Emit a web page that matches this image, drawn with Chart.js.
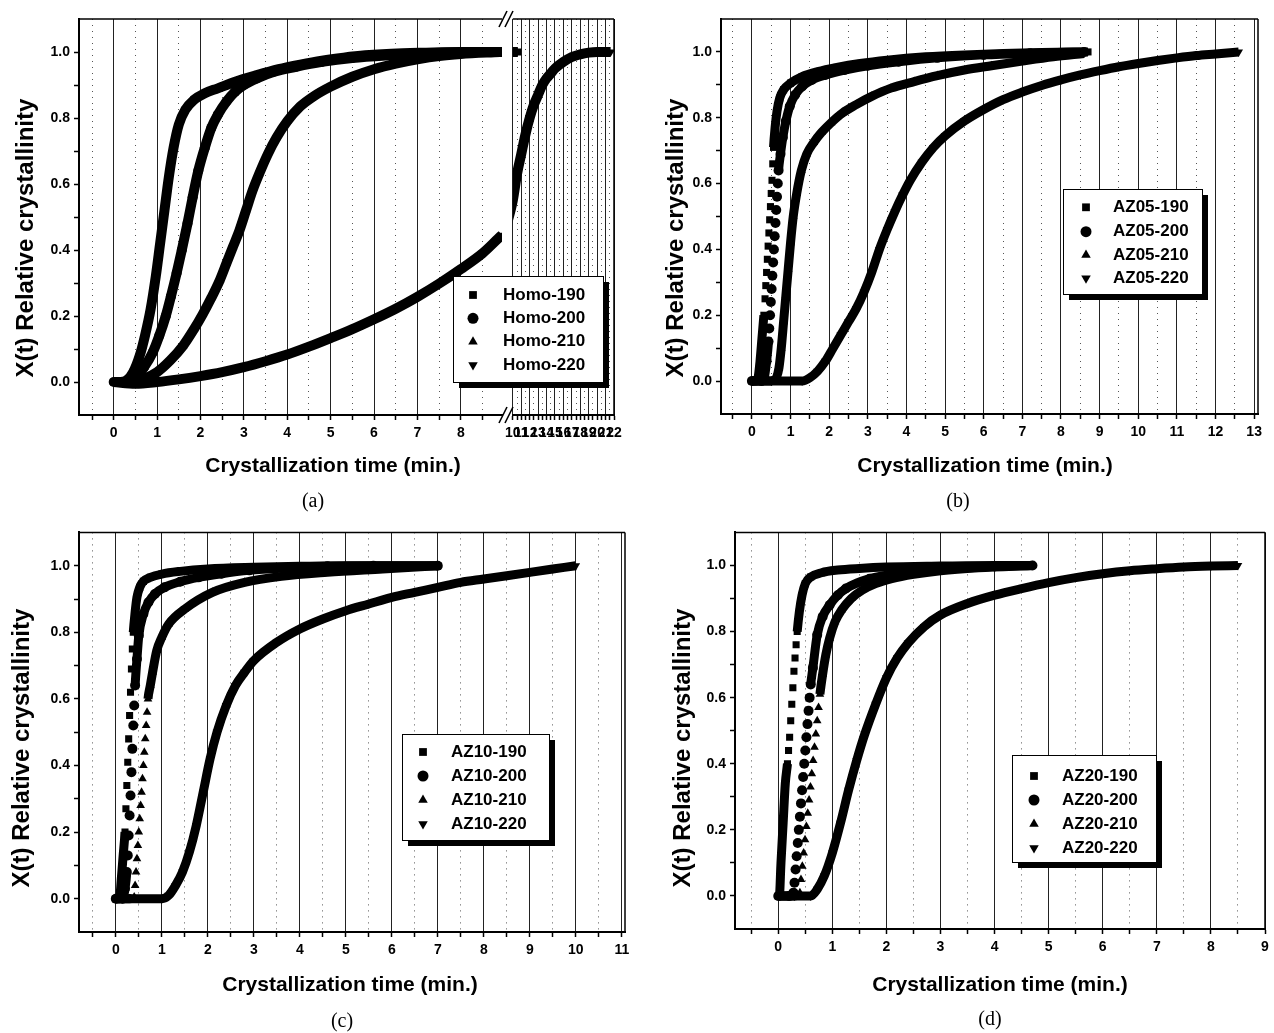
<!DOCTYPE html>
<html><head><meta charset="utf-8">
<script src="https://cdn.jsdelivr.net/npm/chart.js@4.4.1/dist/chart.umd.min.js"></script>
<style>
html,body{margin:0;padding:0;background:#fff;}
#wrap{position:relative;width:1274px;height:1033px;overflow:hidden;background:#fff;}
canvas{position:absolute;}
.cap{position:absolute;font-family:'Liberation Serif','Times New Roman',serif;font-size:20px;color:#000;transform:translate(-50%,-50%);white-space:nowrap;}
</style></head><body>
<div id="wrap">
<canvas id="ca2" width="140" height="520" style="left:500px;top:0px"></canvas>
<canvas id="ca1" width="640" height="520" style="left:0px;top:0px"></canvas>
<canvas id="cb" width="634" height="520" style="left:640px;top:0px"></canvas>
<canvas id="cc" width="640" height="513" style="left:0px;top:520px"></canvas>
<canvas id="cd" width="634" height="513" style="left:640px;top:520px"></canvas>
<div class="cap" style="left:313px;top:500px">(a)</div>
<div class="cap" style="left:958px;top:500px">(b)</div>
<div class="cap" style="left:342px;top:1020px">(c)</div>
<div class="cap" style="left:990px;top:1018px">(d)</div>
</div>
<script>
// ---------------- DATA ----------------
const xTitle = 'Crystallization time (min.)';
const yTitle = 'X(t) Relative crystallinity';
const labelsA = ['Homo-190','Homo-200','Homo-210','Homo-220'];
const labelsB = ['AZ05-190','AZ05-200','AZ05-210','AZ05-220'];
const labelsC = ['AZ10-190','AZ10-200','AZ10-210','AZ10-220'];
const labelsD = ['AZ20-190','AZ20-200','AZ20-210','AZ20-220'];

// panel (a): [time (min), X(t)]
const homo190 = [[0,0],[0.15,0],[0.3,0.005],[0.45,0.03],[0.6,0.08],[0.72,0.14],[0.85,0.22],[0.97,0.32],[1.07,0.42],[1.17,0.52],[1.27,0.62],[1.38,0.71],[1.5,0.78],[1.65,0.825],[1.85,0.855],[2.1,0.875],[2.4,0.89],[2.8,0.91],[3.3,0.93],[3.8,0.948],[4.3,0.962],[4.8,0.974],[5.3,0.983],[5.8,0.99],[6.4,0.995],[7.2,0.998],[8.0,1.0],[8.9,1.0],[10.2,1.0],[10.6,1.0]];
const homo200 = [[0,0],[0.3,0],[0.5,0.015],[0.7,0.045],[0.9,0.09],[1.05,0.14],[1.2,0.2],[1.32,0.26],[1.45,0.33],[1.57,0.4],[1.7,0.48],[1.82,0.56],[1.95,0.64],[2.1,0.71],[2.25,0.77],[2.4,0.81],[2.6,0.85],[2.8,0.88],[3.0,0.9],[3.3,0.92],[3.7,0.94],[4.2,0.955],[4.8,0.97],[5.5,0.982],[6.3,0.99],[7.2,0.996],[8.0,0.999],[8.9,1.0]];
const homo210 = [[0,0],[0.4,0],[0.7,0.01],[1.0,0.03],[1.3,0.065],[1.6,0.11],[1.85,0.16],[2.05,0.205],[2.25,0.255],[2.45,0.31],[2.6,0.36],[2.75,0.41],[2.9,0.46],[3.05,0.52],[3.2,0.58],[3.35,0.63],[3.55,0.69],[3.75,0.74],[4.0,0.79],[4.3,0.835],[4.6,0.865],[5.0,0.895],[5.5,0.925],[6.0,0.948],[6.5,0.965],[7.0,0.978],[7.5,0.988],[8.0,0.994],[8.9,1.0]];
const homo220 = [[0,0],[0.5,-0.005],[1.0,0.0],[1.5,0.008],[2.0,0.018],[2.5,0.03],[3.0,0.045],[3.5,0.063],[4.0,0.083],[4.5,0.107],[5.0,0.133],[5.5,0.16],[6.0,0.19],[6.5,0.222],[7.0,0.258],[7.5,0.298],[8.0,0.342],[8.5,0.39],[8.95,0.445],[10.0,0.55],[10.5,0.63],[11.0,0.69],[11.5,0.75],[12.0,0.8],[12.5,0.84],[13.0,0.87],[13.5,0.9],[14.0,0.92],[14.5,0.935],[15.0,0.95],[16.0,0.97],[17.0,0.985],[18.0,0.993],[19.0,0.998],[20.0,1.0],[21.0,1.0],[21.6,1.0]];

// panel (b)
const az05_190 = [[0,0],[0.1,0],[0.16,0.01],[0.21,0.06],[0.26,0.13],[0.31,0.2],[0.34,0.25],[0.36,0.29],[0.38,0.33],[0.4,0.37],[0.42,0.41],[0.44,0.45],[0.46,0.49],[0.48,0.53],[0.5,0.57],[0.52,0.61],[0.54,0.66],[0.56,0.71],[0.6,0.77],[0.65,0.82],[0.72,0.86],[0.82,0.885],[1.0,0.905],[1.3,0.925],[1.7,0.94],[2.2,0.953],[2.8,0.965],[3.5,0.975],[4.5,0.985],[5.5,0.991],[6.5,0.995],[7.5,0.998],[8.7,1.0]];
const az05_200 = [[0,0],[0.25,0],[0.32,0.01],[0.38,0.06],[0.43,0.12],[0.45,0.16],[0.47,0.2],[0.49,0.24],[0.51,0.28],[0.53,0.32],[0.55,0.36],[0.57,0.4],[0.59,0.44],[0.61,0.48],[0.63,0.52],[0.65,0.56],[0.67,0.6],[0.69,0.64],[0.74,0.69],[0.8,0.74],[0.88,0.79],[0.98,0.835],[1.12,0.87],[1.3,0.895],[1.55,0.915],[1.9,0.93],[2.4,0.945],[3.0,0.958],[3.8,0.97],[4.8,0.982],[6.0,0.991],[7.2,0.996],[8.6,1.0]];
const az05_210 = [[0,0],[0.4,0],[0.6,0.005],[0.7,0.04],[0.76,0.1],[0.82,0.18],[0.88,0.26],[0.94,0.34],[1.0,0.42],[1.07,0.5],[1.16,0.57],[1.28,0.64],[1.42,0.69],[1.6,0.725],[1.8,0.755],[2.05,0.785],[2.35,0.815],[2.7,0.84],[3.1,0.865],[3.6,0.89],[4.2,0.91],[4.8,0.928],[5.5,0.945],[6.2,0.958],[7.0,0.972],[7.8,0.985],[8.6,0.995]];
const az05_220 = [[0,0],[0.5,0],[1.0,0],[1.3,0.0],[1.5,0.01],[1.7,0.03],[1.9,0.06],[2.1,0.1],[2.3,0.14],[2.5,0.18],[2.7,0.22],[2.9,0.27],[3.1,0.33],[3.3,0.4],[3.5,0.46],[3.7,0.515],[3.9,0.565],[4.1,0.61],[4.4,0.665],[4.7,0.71],[5.0,0.745],[5.5,0.79],[6.0,0.825],[6.5,0.855],[7.0,0.878],[7.5,0.898],[8.0,0.915],[8.5,0.93],[9.0,0.943],[9.5,0.955],[10.0,0.965],[10.5,0.974],[11.0,0.982],[11.5,0.989],[12.0,0.994],[12.6,1.0]];

// panel (c)
const az10_190 = [[0,0],[0.08,0],[0.12,0.06],[0.16,0.13],[0.2,0.2],[0.22,0.27],[0.24,0.34],[0.26,0.41],[0.28,0.48],[0.3,0.55],[0.32,0.62],[0.34,0.69],[0.36,0.75],[0.38,0.8],[0.42,0.86],[0.46,0.905],[0.52,0.935],[0.6,0.953],[0.75,0.965],[1.0,0.975],[1.4,0.983],[2.0,0.99],[3.0,0.995],[4.0,0.998],[5.0,1.0],[6.0,1.0],[7.0,1.0]];
const az10_200 = [[0,0],[0.15,0],[0.2,0.03],[0.24,0.08],[0.26,0.13],[0.28,0.19],[0.3,0.25],[0.32,0.31],[0.34,0.38],[0.36,0.45],[0.38,0.52],[0.4,0.58],[0.42,0.64],[0.46,0.72],[0.5,0.79],[0.6,0.855],[0.71,0.89],[0.85,0.915],[1.06,0.935],[1.4,0.952],[1.8,0.965],[2.3,0.976],[2.9,0.986],[3.7,0.993],[4.6,0.998],[5.6,1.0],[7.0,1.0]];
const az10_210 = [[0,0],[0.3,0],[0.4,0.005],[0.42,0.04],[0.44,0.08],[0.46,0.12],[0.48,0.16],[0.5,0.2],[0.52,0.24],[0.54,0.28],[0.56,0.32],[0.58,0.36],[0.6,0.4],[0.62,0.44],[0.64,0.48],[0.66,0.52],[0.68,0.56],[0.7,0.6],[0.75,0.64],[0.8,0.68],[0.89,0.745],[1.0,0.785],[1.15,0.825],[1.5,0.87],[2.1,0.92],[2.8,0.95],[3.6,0.968],[4.6,0.98],[5.8,0.99],[7.0,1.0]];
const az10_220 = [[0,0],[0.5,0],[1.0,0],[1.15,0.01],[1.3,0.04],[1.45,0.08],[1.6,0.14],[1.75,0.22],[1.9,0.32],[2.05,0.42],[2.2,0.5],[2.4,0.58],[2.6,0.64],[2.8,0.68],[3.0,0.715],[3.5,0.77],[4.0,0.81],[4.5,0.84],[5.0,0.865],[5.5,0.885],[6.0,0.905],[6.5,0.92],[7.0,0.935],[7.5,0.95],[8.0,0.96],[8.5,0.97],[9.0,0.98],[9.5,0.99],[10.0,1.0]];

// panel (d)
const az20_190 = [[0,0],[0.02,0],[0.05,0.1],[0.09,0.22],[0.13,0.34],[0.17,0.4],[0.19,0.44],[0.21,0.48],[0.23,0.53],[0.25,0.58],[0.27,0.63],[0.29,0.68],[0.31,0.72],[0.33,0.76],[0.35,0.8],[0.39,0.86],[0.44,0.91],[0.5,0.945],[0.6,0.965],[0.8,0.978],[1.1,0.986],[1.5,0.991],[2.0,0.995],[3.0,0.998],[4.0,1.0],[4.7,1.0]];
const az20_200 = [[0,0],[0.2,0],[0.28,0.01],[0.3,0.04],[0.32,0.08],[0.34,0.12],[0.36,0.16],[0.38,0.2],[0.4,0.24],[0.42,0.28],[0.44,0.32],[0.46,0.36],[0.48,0.4],[0.5,0.44],[0.52,0.48],[0.54,0.52],[0.56,0.56],[0.58,0.6],[0.6,0.64],[0.64,0.69],[0.72,0.79],[0.82,0.845],[0.95,0.88],[1.1,0.91],[1.25,0.93],[1.69,0.96],[2.4,0.98],[3.2,0.99],[4.0,0.997],[4.7,1.0]];
const az20_210 = [[0,0],[0.3,0],[0.4,0.01],[0.42,0.05],[0.445,0.09],[0.47,0.13],[0.495,0.17],[0.52,0.21],[0.545,0.25],[0.57,0.29],[0.595,0.33],[0.62,0.37],[0.645,0.41],[0.67,0.45],[0.695,0.49],[0.72,0.53],[0.745,0.57],[0.77,0.61],[0.82,0.67],[0.88,0.73],[0.95,0.78],[1.05,0.83],[1.17,0.865],[1.35,0.9],[1.55,0.925],[1.8,0.945],[2.1,0.96],[2.5,0.973],[3.0,0.984],[3.7,0.993],[4.7,1.0]];
const az20_220 = [[0,0],[0.3,0],[0.6,0],[0.72,0.02],[0.85,0.06],[1.0,0.13],[1.15,0.22],[1.3,0.32],[1.45,0.41],[1.6,0.49],[1.8,0.58],[2.0,0.66],[2.2,0.72],[2.4,0.765],[2.7,0.815],[3.0,0.85],[3.5,0.885],[4.0,0.91],[4.5,0.93],[5.0,0.948],[5.5,0.963],[6.0,0.975],[6.5,0.984],[7.0,0.99],[7.5,0.995],[8.0,0.998],[8.5,1.0]];

// tick values
const halves = (a, b) => { const r = []; for (let k = a; k <= b; k++) r.push(k / 2); return r; };
const yTicks = [0,1,2,3,4,5,6,7,8,9,10].map(k => k / 10);
const xTicksA1 = halves(-1, 17);
const xTicksA2 = halves(20, 44);
const xTicksB = halves(-1, 26);
const xTicksC = halves(-1, 22);
const xTicksD = halves(-1, 18);

// ---------------- STYLE ----------------
const FONT = "'Liberation Sans', Arial, Helvetica, sans-serif";
const markers = [
  {style: 'rect', rot: 0},
  {style: 'circle', rot: 0},
  {style: 'triangle', rot: 0},
  {style: 'triangle', rot: 180}
];

function makeDatasets(labels, series, lineW, radius) {
  return series.map((data, i) => ({
    label: labels[i],
    data: data,
    showLine: true,
    borderColor: '#000',
    backgroundColor: '#000',
    borderWidth: lineW,
    borderJoinStyle: 'round',
    cubicInterpolationMode: 'monotone',
    pointRadius: radius,
    pointHoverRadius: radius,
    pointStyle: markers[i].style,
    pointRotation: markers[i].rot,
    pointBackgroundColor: '#000',
    pointBorderColor: '#000',
    pointBorderWidth: 0,
    clip: 0,
    segment: {
      borderColor: ctx => Math.abs(ctx.p1.x - ctx.p0.x) < 1.5 ? 'rgba(0,0,0,0)' : '#000'
    }
  }));
}

function drawMarker(ctx, style, rot, r, x, y) {
  if (Chart.helpers && Chart.helpers.drawPoint) {
    Chart.helpers.drawPoint(ctx, {pointStyle: style, rotation: rot, radius: r, borderWidth: 0}, x, y);
    return;
  }
  ctx.beginPath();
  if (style === 'circle') ctx.arc(x, y, r, 0, Math.PI * 2);
  else if (style === 'rect') { const s = r * Math.SQRT1_2; ctx.rect(x - s, y - s, 2 * s, 2 * s); }
  else { const d = rot ? -1 : 1; ctx.moveTo(x, y - d * r); ctx.lineTo(x + r * 0.866, y + d * r * 0.5); ctx.lineTo(x - r * 0.866, y + d * r * 0.5); ctx.closePath(); }
  ctx.fill();
}

function decorPlugin(d) {
  return {
    id: 'decor',
    afterDraw(chart) {
      const ctx = chart.ctx, a = chart.chartArea, ox = d.ox, oy = d.oy;
      ctx.save();
      ctx.strokeStyle = '#000';
      ctx.lineWidth = 1.5;
      ctx.beginPath();
      if (d.frameTop) { ctx.moveTo(a.left, a.top); ctx.lineTo(a.right, a.top); }
      if (d.frameRight) { ctx.moveTo(a.right, a.top); ctx.lineTo(a.right, a.bottom + 1); }
      ctx.stroke();
      if (d.breakMarks) {
        ctx.lineWidth = 1.6;
        ctx.beginPath();
        [a.top, a.bottom].forEach(yy => {
          d.breakMarks.forEach(bx => {
            ctx.moveTo(bx - ox - 4, yy + 8);
            ctx.lineTo(bx - ox + 4, yy - 8);
          });
        });
        ctx.stroke();
      }
      ctx.fillStyle = '#000';
      if (d.xTitle) {
        ctx.font = 'bold 21px ' + FONT;
        ctx.textAlign = 'center';
        ctx.textBaseline = 'middle';
        ctx.fillText(xTitle, d.xTitle[0] - ox, d.xTitle[1] - oy);
      }
      if (d.yTitle) {
        ctx.save();
        ctx.translate(d.yTitle[0] - ox, d.yTitle[1] - oy);
        ctx.rotate(-Math.PI / 2);
        ctx.font = 'bold 24px ' + FONT;
        ctx.textAlign = 'center';
        ctx.textBaseline = 'middle';
        ctx.fillText(yTitle, 0, 0);
        ctx.restore();
      }
      if (d.legend) {
        const L = d.legend;
        const x0 = L.box[0] - ox, y0 = L.box[1] - oy, w = L.box[2] - L.box[0], h = L.box[3] - L.box[1];
        ctx.fillStyle = '#000';
        ctx.fillRect(x0 + 6, y0 + 6, w, h);
        ctx.fillStyle = '#fff';
        ctx.fillRect(x0, y0, w, h);
        ctx.lineWidth = 1;
        ctx.strokeStyle = '#000';
        ctx.strokeRect(x0 + 0.5, y0 + 0.5, w, h);
        chart.data.datasets.forEach((ds, i) => {
          const yy = L.rows[i] - oy;
          ctx.fillStyle = '#000';
          drawMarker(ctx, ds.pointStyle, ds.pointRotation || 0, 5.5, L.mx - ox, yy);
          ctx.font = 'bold 17px ' + FONT;
          ctx.textAlign = 'left';
          ctx.textBaseline = 'middle';
          ctx.fillText(ds.label, L.tx - ox, yy);
        });
      }
      ctx.restore();
    }
  };
}

function isInt(v) { return Math.abs(v - Math.round(v)) < 1e-9; }

function makeChart(p) {
  const [cx, cy, cw, ch] = p.box;
  const [l, r, t, b] = p.area;
  const YW = 40, XH = 40;
  const tickFont = {family: FONT, size: 14, weight: 'bold'};
  const scales = {
    x: {
      type: 'linear', min: p.xMin, max: p.xMax,
      afterBuildTicks: s => { s.ticks = p.xTicks.map(v => ({value: v})); },
      afterFit: s => { s.height = XH; },
      ticks: {autoSkip: false, maxRotation: 0, minRotation: 0, padding: 5, color: '#000', font: tickFont,
        callback: v => isInt(v) ? String(Math.round(v)) : ''},
      grid: {
        color: c => (c.tick && !isInt(c.tick.value)) ? '#555' : '#222',
        lineWidth: 1, drawTicks: true, tickLength: 5, tickColor: '#000', tickWidth: 1.5
      },
      border: {display: true, color: '#000', width: 2,
        dash: c => (c.tick && !isInt(c.tick.value)) ? [1, 5] : []}
    },
    y: {
      type: 'linear', min: -0.1, max: 1.1, display: p.showY,
      afterBuildTicks: s => { s.ticks = yTicks.map(v => ({value: v})); },
      afterFit: s => { s.width = p.showY ? YW : 0; },
      ticks: {padding: 4, color: '#000', font: tickFont,
        callback: v => (Math.round(v * 10) % 2 === 0) ? v.toFixed(1) : ''},
      grid: {drawOnChartArea: false, drawTicks: true, tickLength: 5, tickColor: '#000', tickWidth: 1.5},
      border: {display: true, color: '#000', width: 2}
    }
  };
  const padLeft = p.showY ? (l - cx - YW) : (l - cx);
  return new Chart(document.getElementById(p.id), {
    type: 'scatter',
    data: {datasets: makeDatasets(p.labels, p.series, p.lineW, p.radius)},
    options: {
      responsive: false, animation: false, events: [],
      layout: {autoPadding: false, padding: {left: padLeft, right: cx + cw - r, top: t - cy, bottom: cy + ch - b - XH}},
      plugins: {legend: {display: false}, tooltip: {enabled: false}},
      scales: scales
    },
    plugins: [decorPlugin(Object.assign({ox: cx, oy: cy}, p.decor))]
  });
}

const seriesA = [homo190, homo200, homo210, homo220];

makeChart({id: 'ca2', box: [500, 0, 140, 520], area: [511.5, 614, 19, 415], xMin: 10, xMax: 22, xTicks: xTicksA2,
  showY: false, labels: labelsA, series: seriesA, lineW: 10, radius: 5,
  decor: {frameTop: true, frameRight: true}});
makeChart({id: 'ca1', box: [0, 0, 640, 520], area: [79, 502, 19, 415], xMin: -0.8, xMax: 8.95, xTicks: xTicksA1,
  showY: true, labels: labelsA, series: seriesA, lineW: 10, radius: 5,
  decor: {frameTop: true, breakMarks: [503, 509], xTitle: [333, 466], yTitle: [26, 238],
    legend: {box: [453, 276, 603, 382], mx: 473, tx: 503, rows: [295, 318.3, 341.7, 365]}}});
makeChart({id: 'cb', box: [640, 0, 634, 520], area: [721, 1258, 19, 414], xMin: -0.8, xMax: 13.1, xTicks: xTicksB,
  showY: true, labels: labelsB, series: [az05_190, az05_200, az05_210, az05_220], lineW: 9, radius: 5,
  decor: {frameTop: true, frameRight: true, xTitle: [985, 466], yTitle: [676, 238],
    legend: {box: [1063, 189, 1202, 294], mx: 1086, tx: 1113, rows: [207.3, 231.7, 255, 278.3]}}});
makeChart({id: 'cc', box: [0, 520, 640, 513], area: [79, 625, 532, 932], xMin: -0.8, xMax: 11.07, xTicks: xTicksC,
  showY: true, labels: labelsC, series: [az10_190, az10_200, az10_210, az10_220], lineW: 9, radius: 5,
  decor: {frameTop: true, frameRight: true, xTitle: [350, 985], yTitle: [22, 748],
    legend: {box: [402, 734, 549, 840], mx: 423, tx: 451, rows: [752, 776, 800, 824]}}});
makeChart({id: 'cd', box: [640, 520, 634, 513], area: [735, 1265, 527, 929], xMin: -0.8, xMax: 9.0, xTicks: xTicksD,
  showY: true, labels: labelsD, series: [az20_190, az20_200, az20_210, az20_220], lineW: 9, radius: 5,
  decor: {frameTop: true, frameRight: true, xTitle: [1000, 985], yTitle: [683, 748],
    legend: {box: [1012, 755, 1156, 862], mx: 1034, tx: 1062, rows: [776, 800, 824, 848]}}});
</script>
</body></html>
